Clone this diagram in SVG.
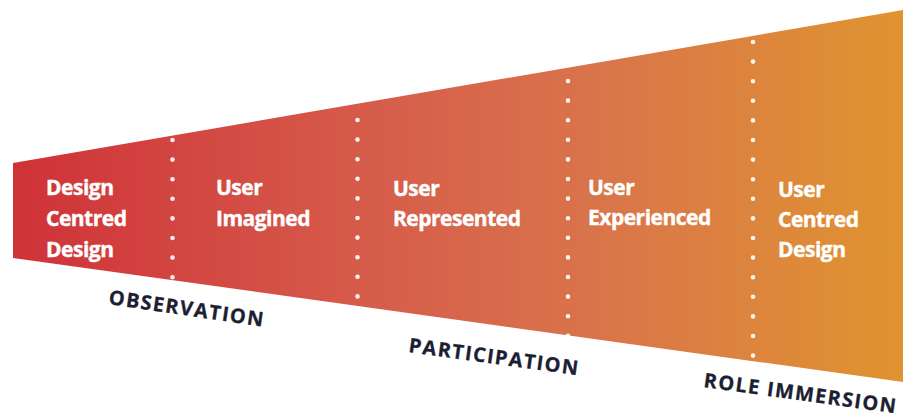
<svg xmlns="http://www.w3.org/2000/svg" width="903" height="419" viewBox="0 0 903 419">
<defs>
<linearGradient id="g" gradientUnits="userSpaceOnUse" x1="13" y1="0" x2="903" y2="0">
<stop offset="0" stop-color="#cf3238"/>
<stop offset="0.4" stop-color="#d65c4b"/>
<stop offset="0.65" stop-color="#d9744b"/>
<stop offset="1" stop-color="#e09430"/>
</linearGradient>
<style>
.n{font-family:"Open Sans","Noto Sans",sans-serif;font-weight:700;font-size:21px;fill:#ffffff;stroke:#ffffff;stroke-width:0.4px;letter-spacing:-0.5px}
.l{font-family:"Open Sans","Noto Sans",sans-serif;font-weight:700;font-size:20px;fill:#1c1f33;stroke:#1c1f33;stroke-width:0.3px;letter-spacing:1.4px}
.d{stroke:#ffffff;stroke-width:4.6;stroke-linecap:round;stroke-dasharray:0 19.6;fill:none;opacity:0.92}
</style>
</defs>
<g id="funnel">
<polygon points="13,163 903,10 903,382 13,258" fill="url(#g)"/>
</g>
<g id="connectors">
<line class="d" x1="172.5" y1="140" x2="172.5" y2="278"/>
<line class="d" x1="357.5" y1="120" x2="357.5" y2="298"/>
<line class="d" x1="568" y1="81" x2="568" y2="338"/>
<line class="d" x1="753" y1="42" x2="753" y2="358"/>
</g>
<g id="node-design-centred-design">
<text class="n" x="46" y="195">Design</text>
<text class="n" x="46" y="226">Centred</text>
<text class="n" x="46" y="257">Design</text>
</g>
<g id="node-user-imagined">
<text class="n" x="216" y="195">User</text>
<text class="n" x="216" y="226">Imagined</text>
</g>
<g id="node-user-represented">
<text class="n" x="393" y="196">User</text>
<text class="n" x="393" y="226">Represented</text>
</g>
<g id="node-user-experienced">
<text class="n" x="588" y="195">User</text>
<text class="n" x="588" y="225">Experienced</text>
</g>
<g id="node-user-centred-design">
<text class="n" x="778" y="197">User</text>
<text class="n" x="778" y="227">Centred</text>
<text class="n" x="778" y="257">Design</text>
</g>
<g id="label-observation">
<text class="l" transform="translate(108,304) rotate(8.3)">OBSERVATION</text>
</g>
<g id="label-participation">
<text class="l" transform="translate(408,352) rotate(7.8)">PARTICIPATION</text>
</g>
<g id="label-role-immersion">
<text class="l" transform="translate(703,387) rotate(7.8)">ROLE IMMERSION</text>
</g>
</svg>
